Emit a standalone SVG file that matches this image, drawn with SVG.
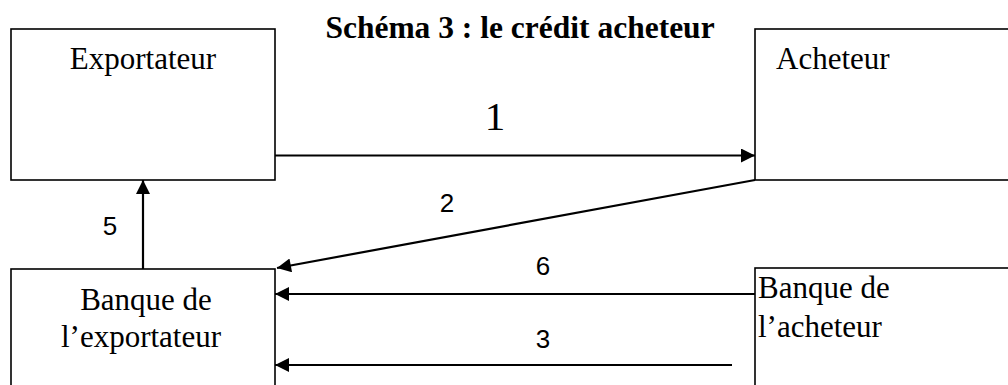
<svg xmlns="http://www.w3.org/2000/svg" width="1008" height="385" viewBox="0 0 1008 385">
<style>
.box{fill:#fff;stroke:#000;stroke-width:1.6}
.serif{font-family:"Liberation Serif","Times New Roman",serif;font-size:31px;fill:#000}
.lbl{font-family:"Liberation Sans",Arial,sans-serif;font-size:26px;fill:#000;text-anchor:middle}
.con{stroke:#000;stroke-width:2.2;fill:none;marker-end:url(#ah)}
</style>
<defs>
<marker id="ah" viewBox="0 0 10 10" refX="10" refY="5" markerUnits="userSpaceOnUse" markerWidth="17" markerHeight="14" orient="auto">
<path d="M0,0 L10,5 L0,10 z" fill="#000"/>
</marker>
</defs>
<rect width="1008" height="385" fill="#fff"/>
<text x="520" y="38" text-anchor="middle" style="font-family:'Liberation Serif','Times New Roman',serif;font-size:31.5px;font-weight:bold">Schéma 3 : le crédit acheteur</text>
<g id="exportateur">
<rect class="box" x="11" y="29" width="264" height="151"/>
<text class="serif" x="143" y="69" text-anchor="middle">Exportateur</text>
</g>
<g id="acheteur">
<rect class="box" x="755" y="29" width="260" height="151"/>
<text class="serif" x="776" y="69">Acheteur</text>
</g>
<g id="banque-exportateur">
<rect class="box" x="11" y="269" width="264" height="130"/>
<text class="serif" x="146" y="310" text-anchor="middle">Banque de</text>
<text class="serif" x="141" y="347" text-anchor="middle">l’exportateur</text>
</g>
<g id="banque-acheteur">
<rect class="box" x="755" y="268" width="260" height="130"/>
<text class="serif" x="758" y="298">Banque de</text>
<text class="serif" x="758" y="337">l’acheteur</text>
</g>
<g id="connectors">
<line class="con" x1="275" y1="155.5" x2="755" y2="155.5"/>
<line class="con" x1="755" y1="180" x2="277" y2="268"/>
<line class="con" x1="755" y1="294" x2="275" y2="294"/>
<line class="con" x1="732" y1="365" x2="275" y2="365"/>
<line class="con" x1="143" y1="269" x2="143" y2="180"/>
<text class="serif" x="495" y="130" text-anchor="middle" style="font-size:41px">1</text>
<text class="lbl" x="447" y="212">2</text>
<text class="lbl" x="543" y="275">6</text>
<text class="lbl" x="543" y="348">3</text>
<text class="lbl" x="110" y="235">5</text>
</g>
</svg>
